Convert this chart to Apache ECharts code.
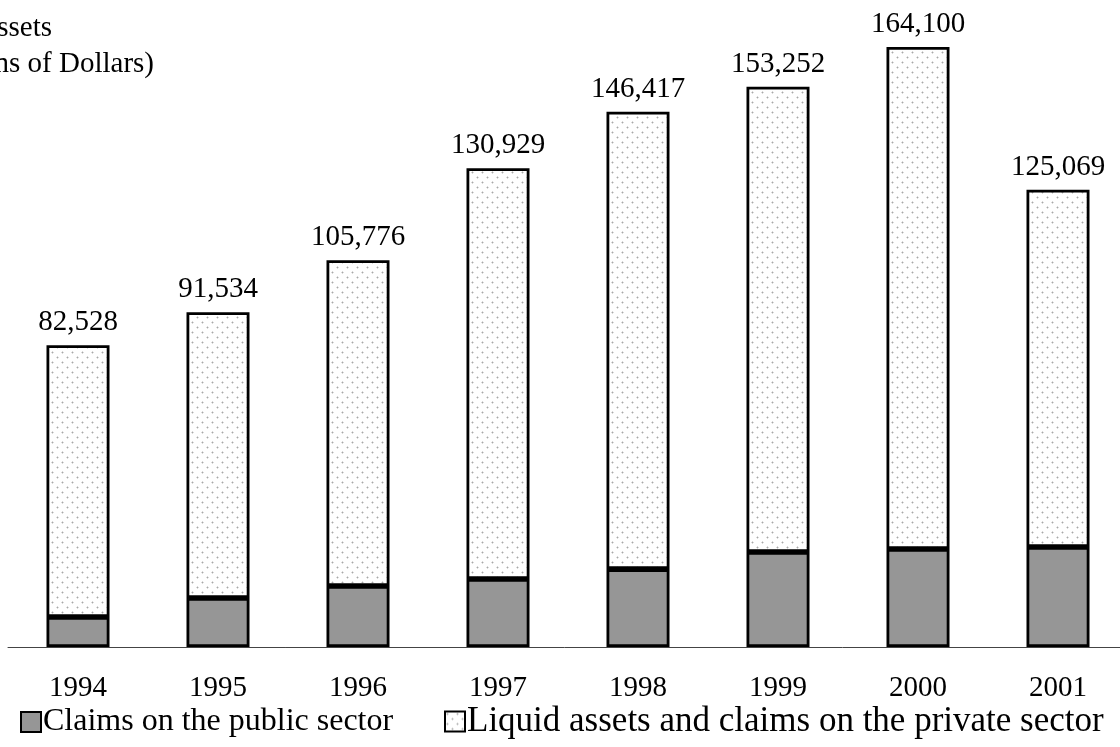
<!DOCTYPE html>
<html>
<head>
<meta charset="utf-8">
<script src="https://cdn.jsdelivr.net/npm/echarts@6/dist/echarts.min.js"></script>
<style>
  html, body { margin: 0; padding: 0; background: #fff; }
  #main { width: 1120px; height: 747px; }
</style>
</head>
<body>
<div id="main"></div>
<script>
var years = ['1994', '1995', '1996', '1997', '1998', '1999', '2000', '2001'];
var totals = [82528, 91534, 105776, 130929, 146417, 153252, 164100, 125069];
var publicClaims = [8200, 13400, 16700, 18600, 21300, 26000, 26800, 27350];
var privateClaims = [74328, 78134, 89076, 112329, 125117, 127252, 137300, 97719];

var serif = '"Liberation Serif", "Times New Roman", serif';

// light dotted fill for the private sector part
function dotPattern() {
    var c = document.createElement('canvas');
    c.width = 10;
    c.height = 10;
    var ctx = c.getContext('2d');
    ctx.fillStyle = '#fff';
    ctx.fillRect(0, 0, 10, 10);
    [[2, 2], [7, 7]].forEach(function (p) {
        ctx.fillStyle = '#dadada';
        ctx.fillRect(p[0] - 1, p[1], 3, 1);
        ctx.fillRect(p[0], p[1] - 1, 1, 3);
        ctx.fillStyle = '#a8a8a8';
        ctx.fillRect(p[0], p[1], 1, 1);
    });
    return c;
}

var chart = echarts.init(document.getElementById('main'));

var option = {
    backgroundColor: '#fff',
    animation: false,
    textStyle: { fontFamily: serif },
    grid: {
        left: 8,
        width: 1120,
        top: 47,
        bottom: 100,
        containLabel: false,
        outerBoundsMode: 'none'
    },
    legend: [
        {
            data: ['Claims on the public sector'],
            left: 15,
            top: 701,
            itemWidth: 20,
            itemHeight: 20,
            icon: 'rect',
            itemStyle: { borderColor: '#000', borderWidth: 2 },
            textStyle: { fontFamily: serif, fontSize: 32, color: '#000', padding: [0, 0, 0, -3] }
        },
        {
            data: ['Liquid assets and claims on the private sector'],
            left: 439,
            top: 699,
            itemWidth: 20,
            itemHeight: 20,
            icon: 'rect',
            itemStyle: { borderColor: '#000', borderWidth: 2 },
            textStyle: { fontFamily: serif, fontSize: 35, color: '#000', padding: [0, 0, 0, -3] }
        }
    ],
    xAxis: {
        type: 'category',
        data: years,
        axisLine: { lineStyle: { color: '#444', width: 1 } },
        axisTick: { show: false },
        axisLabel: { color: '#000', fontSize: 29, fontFamily: serif, margin: 27 }
    },
    yAxis: {
        type: 'value',
        min: 0,
        max: 164100,
        show: false,
        splitLine: { show: false }
    },
    series: [
        {
            name: 'Claims on the public sector',
            type: 'bar',
            stack: 'assets',
            barWidth: 63,
            data: publicClaims,
            itemStyle: { color: '#969696', borderColor: '#000', borderWidth: 2.8 }
        },
        {
            name: 'Liquid assets and claims on the private sector',
            type: 'bar',
            stack: 'assets',
            barWidth: 63,
            data: privateClaims,
            itemStyle: {
                color: { image: dotPattern(), repeat: 'repeat' },
                borderColor: '#000',
                borderWidth: 2.8
            },
            label: {
                show: true,
                position: 'top',
                distance: 8,
                color: '#000',
                fontSize: 29,
                fontFamily: serif,
                formatter: function (p) {
                    return totals[p.dataIndex].toLocaleString('en-US');
                }
            }
        }
    ],
    graphic: [
        {
            type: 'text',
            right: 1120 - 52,
            top: 14,
            style: { text: 'Assets', font: '29px ' + serif, fill: '#000' }
        },
        {
            type: 'text',
            right: 1120 - 154,
            top: 50,
            style: { text: '(Millions of Dollars)', font: '29px ' + serif, fill: '#000' }
        }
    ]
};

chart.setOption(option);
</script>
</body>
</html>
